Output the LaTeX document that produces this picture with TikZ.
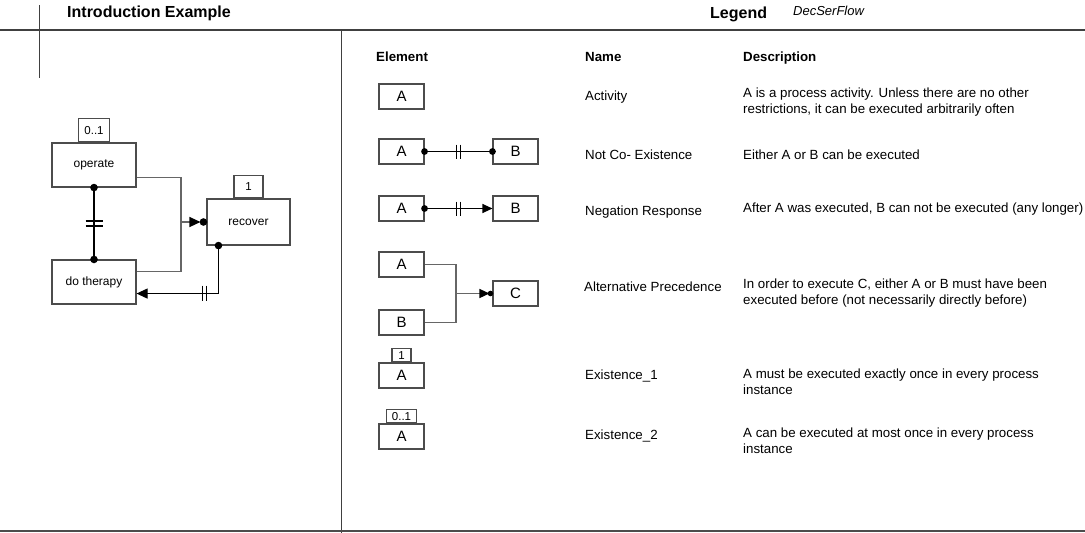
\documentclass[tikz,border=0pt]{standalone}
\usepackage{fontspec}
\setmainfont{Liberation Sans}
\usetikzlibrary{arrows.meta,calc}
\definecolor{framegray}{gray}{0.25}
\definecolor{boxline}{gray}{0.3}
\definecolor{wiregray}{gray}{0.4}
\begin{document}
\begin{tikzpicture}[x=1pt,y=-1pt,
  txt/.style={inner sep=0pt, anchor=base west, font=\fontsize{13.3}{15}\selectfont},
  hdr/.style={inner sep=0pt, anchor=base west, font=\fontsize{13.3}{15}\selectfont\bfseries},
  ttl/.style={inner sep=0pt, anchor=base west, font=\fontsize{16}{18}\selectfont\bfseries},
  act/.style={draw=boxline, line width=1.1pt, inner sep=0pt, minimum width=45pt,
    minimum height=25pt, font=\fontsize{15}{16}\selectfont},
  ibox/.style={draw=boxline, line width=1.1pt, fill=white, inner sep=0pt,
    font=\fontsize{12}{14}\selectfont},
  cnt/.style={draw=boxline, line width=1.1pt, fill=white, inner sep=0pt,
    anchor=south, font=\fontsize{11.5}{13}\selectfont},
  conn/.style={black, line width=1.1pt},
  wireline/.style={wiregray, line width=1.3pt},
  tip/.style={-{Triangle[length=11pt,width=10pt,black]}},
  smalltip/.style={-{Triangle[length=10pt,width=9pt,black]}},
  dot/.style={fill=black},
  bar/.style={black, line width=1.1pt}
]
\useasboundingbox (0,0) rectangle (1085,533);

% frame of the sheet
\draw[framegray, line width=1.2pt] (0,30) -- (1085,30);
\draw[framegray, line width=1pt] (39.5,5) -- (39.5,78);
\draw[framegray, line width=1pt] (341.5,30) -- (341.5,533);
\draw[gray!60!black, line width=2pt] (0,531) -- (1085,531);

% headings
\node[ttl] (t1) at (67,17) {Introduction Example};
\node[ttl] (t2) at (710,18.5) {Legend};
\node[inner sep=0pt, anchor=base west, font=\fontsize{13}{15}\selectfont\itshape] (t3) at (793,15.5) {DecSerFlow};

\node[hdr] (h1) at (376,61.5) {Element};
\node[hdr] (h2) at (585,61.5) {Name};
\node[hdr] (h3) at (743,61.5) {Description};

% ---------------- introduction example ----------------
\node[ibox, minimum width=84pt, minimum height=44pt] (op) at (94,165) {operate};
\node[ibox, minimum width=84pt, minimum height=44pt] (dt) at (94,282) {do therapy};
\node[ibox, minimum width=83pt, minimum height=46pt] (rc) at (248.5,222) {recover};
\node[cnt, minimum width=31pt, minimum height=23pt] (opc) at (op.north) {0..1};
\node[cnt, minimum width=29pt, minimum height=22pt] (rcc) at (rc.north) {1};

% not co-existence between operate and do therapy
\draw[conn] (op.south) -- coordinate[pos=0.5] (m1) (dt.north);
\draw[bar] ($(m1)+(-8.5,-2.5)$) -- ++(17,0);
\draw[bar] ($(m1)+(-8.5,2.5)$) -- ++(17,0);
\fill[dot] (op.south) circle (3.8);
\fill[dot] (dt.north) circle (3.8);

% alternative precedence into recover
\coordinate (opo) at ($(op.south east)+(0,-10)$);
\coordinate (dto) at ($(dt.north east)+(0,12)$);
\coordinate (j1) at (181,222);
\coordinate (rcin) at ($(rc.west)+(-6,0)$);
\draw[wireline] (opo) -| (j1) |- (dto);
\draw[wireline, tip] (j1) -- (rcin);
\fill[dot] ($(rc.west)+(-3,0)$) circle (3.8);

% negation response from recover to do therapy
\coordinate (rcb) at ($(rc.south west)+(12,0)$);
\coordinate (dti) at ($(dt.south east)+(0,-11)$);
\coordinate (m2) at (204.5,293);
\draw[conn, tip] (rcb) |- (dti);
\draw[bar] ($(m2)+(-2,-7.5)$) -- ++(0,15);
\draw[bar] ($(m2)+(2,-7.5)$) -- ++(0,15);
\fill[dot] (rcb) circle (3.8);

% ---------------- legend ----------------
% activity
\node[act] (a1) at (401.5,96.5) {A};
\node[txt] (n1) at (585,100.5) {Activity};
\node[txt] (d1a) at (743,97.5) {A is a process activity. Unless there are no other};
\node[txt] (d1b) at (743,113) {restrictions, it can be executed arbitrarily often};

% not co-existence
\node[act] (a2) at (401.5,151.5) {A};
\node[act] (b2) at (515.5,151.5) {B};
\draw[conn] (a2.east) -- coordinate[pos=0.5] (m3) (b2.west);
\draw[bar] ($(m3)+(-2.2,-7)$) -- ++(0,14);
\draw[bar] ($(m3)+(1.8,-7)$) -- ++(0,14);
\fill[dot] (a2.east) circle (3.4);
\fill[dot] (b2.west) circle (3.4);
\node[txt] (n2) at (585,159) {Not Co- Existence};
\node[txt] (d2) at (743,159.5) {Either A or B can be executed};

% negation response
\node[act] (a3) at (401.5,208.5) {A};
\node[act] (b3) at (515.5,208.5) {B};
\draw[conn, smalltip] (a3.east) -- coordinate[pos=0.5] (m4) (b3.west);
\draw[bar] ($(m4)+(-2.2,-7)$) -- ++(0,14);
\draw[bar] ($(m4)+(1.8,-7)$) -- ++(0,14);
\fill[dot] (a3.east) circle (3.4);
\node[txt] (n3) at (585,215) {Negation Response};
\node[txt] (d3) at (743,212.5) {After A was executed, B can not be executed (any longer)};

% alternative precedence
\node[act] (a4) at (401.5,264.5) {A};
\node[act] (b4) at (401.5,322.5) {B};
\node[act] (c4) at (515.5,293.5) {C};
\coordinate (j2) at (456,293.5);
\coordinate (c4in) at ($(c4.west)+(-3,0)$);
\draw[wireline] (a4.east) -| (j2) |- (b4.east);
\draw[wireline, smalltip] (j2) -- (c4in);
\fill[dot] ($(c4.west)+(-2,0)$) circle (2.8);
\node[txt] (n4) at (584,291.5) {Alternative Precedence};
\node[txt] (d4a) at (743,288.5) {In order to execute C, either A or B must have been};
\node[txt] (d4b) at (743,304) {executed before (not necessarily directly before)};

% existence 1
\node[act] (a5) at (401.5,375.5) {A};
\node[cnt, minimum width=19pt, minimum height=13pt] (a5c) at (a5.north) {1};
\node[txt] (n5) at (585,379.5) {Existence\_1};
\node[txt] (d5a) at (743,378.5) {A must be executed exactly once in every process};
\node[txt] (d5b) at (743,394) {instance};

% existence 2
\node[act] (a6) at (401.5,436.5) {A};
\node[cnt, minimum width=30pt, minimum height=13pt] (a6c) at (a6.north) {0..1};
\node[txt] (n6) at (585,439.5) {Existence\_2};
\node[txt] (d6a) at (743,437.5) {A can be executed at most once in every process};
\node[txt] (d6b) at (743,453) {instance};
\end{tikzpicture}
\end{document}
